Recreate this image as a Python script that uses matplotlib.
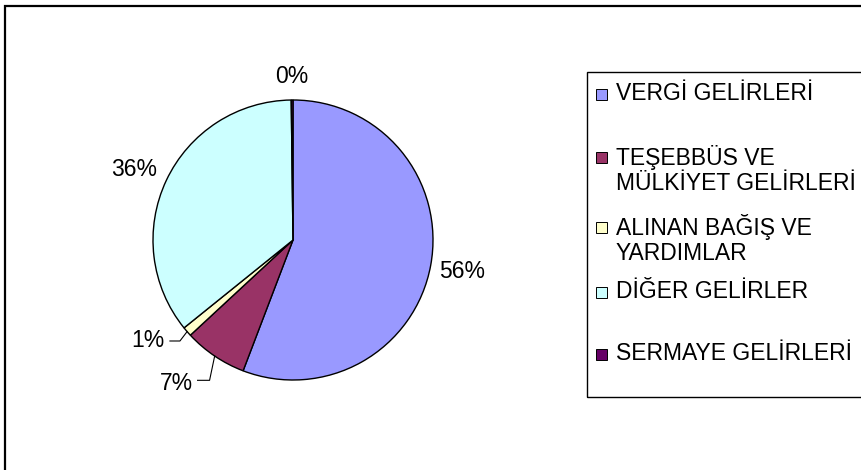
import numpy as np
import matplotlib
matplotlib.use("Agg")
import matplotlib.pyplot as plt
from matplotlib.patches import Rectangle

# =========================
# DATA
# =========================
kategori = ["VERGİ GELİRLERİ",
            "TEŞEBBÜS VE\nMÜLKİYET GELİRLERİ",
            "ALINAN BAĞIŞ VE\nYARDIMLAR",
            "DİĞER GELİRLER",
            "SERMAYE GELİRLERİ"]
persen = [55.8, 7.3, 1.1, 35.6, 0.2]
label_persen = ["56%", "7%", "1%", "36%", "0%"]
warna = ["#9999FF", "#993366", "#FFFFCC", "#CCFFFF", "#660066"]

plt.rcParams['font.family'] = ['Liberation Sans', 'DejaVu Sans']
FS = 16.5

W, H = 862, 470
fig = plt.figure(figsize=(W / 100, H / 100), dpi=100)
ax = fig.add_axes([0, 0, 1, 1])

# =========================
# PIE
# =========================
cx, cy, r = 293, 230, 140
wedges, _ = ax.pie(persen, colors=warna, startangle=90, counterclock=False,
                   center=(cx, cy), radius=r, frame=True,
                   wedgeprops=dict(edgecolor='black', linewidth=1.0))
ax.set_xlim(0, W)
ax.set_ylim(0, H)
ax.set_aspect('equal')
ax.axis('off')

# outer chart border (runs off right / bottom)
ax.add_patch(Rectangle((5.5, -20), W + 50, H - 5.5 + 20, fill=False,
                       edgecolor='black', lw=1.6))

# label placement: (distance factor, angle shift, leader line)
posisi = [(1.23, 0, None), (1.25, -1, (17, 3)), (1.165, -2.6, (15, 0)),
          (1.24, 1.4, None), (1.17, 0, None)]
for w, teks, (d, shift, leader) in zip(wedges, label_persen, posisi):
    mid = (w.theta1 + w.theta2) / 2
    a = np.deg2rad(mid + shift)
    x = cx + d * r * np.cos(a)
    y = cy + d * r * np.sin(a)
    if leader is None:
        ax.text(x, y, teks, ha='center', va='center', fontsize=FS)
    else:
        ax.text(x, y, teks, ha='right', va='center', fontsize=FS)
        m = np.deg2rad(mid)
        ex, ey = cx + r * np.cos(m), cy + r * np.sin(m)
        ax.plot([ex, x + leader[0], x + 5],
                [ey, y + leader[1], y + leader[1]],
                color='black', lw=0.8)

# =========================
# LEGEND (manual box)
# =========================
ax.add_patch(Rectangle((587, H - 397), 400, 325, fill=False,
                       edgecolor='black', lw=1.0))
legend_y = [94, 157, 227, 292, 354]
for nama, c, yy in zip(kategori, warna, legend_y):
    ax.add_patch(Rectangle((596, H - yy - 5.5), 11, 11, facecolor=c,
                           edgecolor='black', lw=0.7))
    for i, baris in enumerate(nama.split("\n")):
        ax.text(616, H - yy - i * 27, baris, ha='left',
                va='center', fontsize=FS)

plt.savefig("out.png", dpi=100)
